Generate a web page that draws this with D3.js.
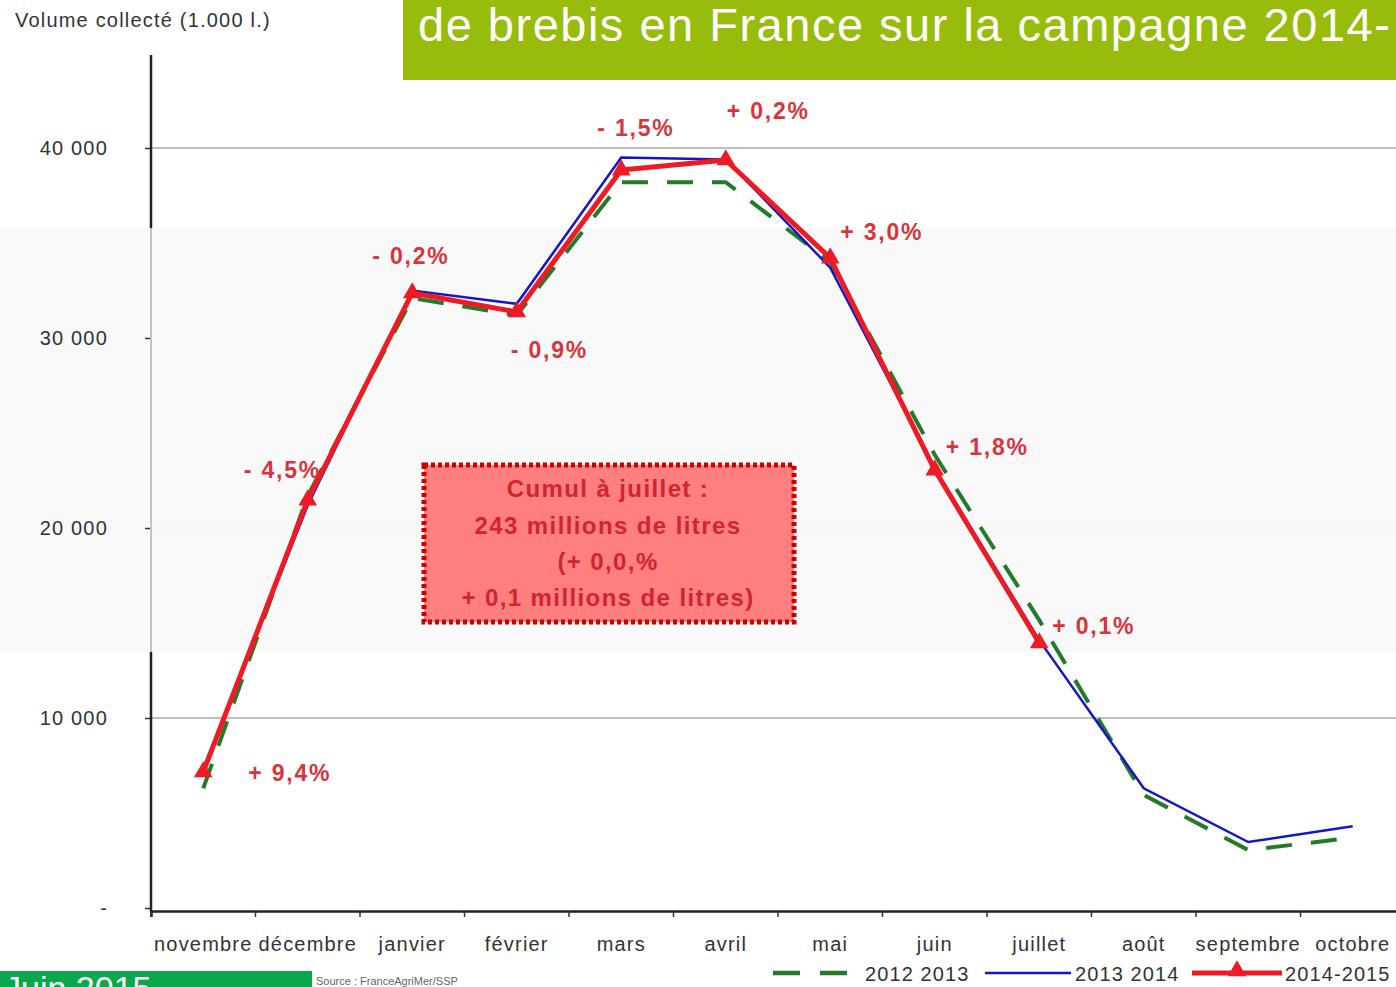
<!DOCTYPE html>
<html lang="fr">
<head>
<meta charset="UTF-8">
<title>Collecte de lait de brebis</title>
<script src="https://d3js.org/d3.v7.min.js"></script>
<style>
  html, body { margin: 0; padding: 0; background: #fff; }
  svg { display: block; font-family: "Liberation Sans", Arial, sans-serif; }
</style>
</head>
<body>
<div id="chart"></div>
<script>
// Data (volume in 1 000 l.)
const months = ["novembre", "décembre", "janvier", "février", "mars", "avril",
                "mai", "juin", "juillet", "août", "septembre", "octobre"];
const serie2012 = [6300, 21700, 32100, 31200, 38200, 38200, 34000, 23850, 15150, 5950, 3050, 3700];
const serie2013 = [7300, 21200, 32500, 31800, 39500, 39400, 33700, 23150, 14100, 6300, 3470, 4300];
const serie2014 = [7160, 21470, 32370, 31370, 38840, 39370, 34210, 23050, 13950];
const seriesNames = ["2012 2013", "2013 2014", "2014-2015"];
const yTicks = [0, 10000, 20000, 30000, 40000];
// evolution labels for 2014-2015 vs previous year
const evolutions = ["+ 9,4%", "- 4,5%", "- 0,2%", "- 0,9%", "- 1,5%", "+ 0,2%", "+ 3,0%", "+ 1,8%", "+ 0,1%"];
const boxLines = ["Cumul à juillet :", "243 millions de litres", "(+ 0,0,%", "+ 0,1 millions de litres)"];

const W = 1396, H = 987;
const svg = d3.select("#chart").append("svg")
    .attr("width", W).attr("height", H);

// faint background band (as in the scanned chart)
svg.append("rect").attr("x", 0).attr("y", 228).attr("width", W).attr("height", 424)
    .attr("fill", "#f9f9f9");

// scales
const x = d3.scaleBand().domain(months).range([151, 151 + 12 * 104.5]);
const y = d3.scaleLinear().domain([0, 45000]).range([908, 53]);
const cx = m => x(m) + x.bandwidth() / 2;

// gridlines
svg.append("g").selectAll("line")
    .data(yTicks.filter(d => d > 0))
    .join("line")
    .attr("x1", 150).attr("x2", W)
    .attr("y1", d => y(d)).attr("y2", d => y(d))
    .attr("stroke", d => (d === 20000 || d === 30000) ? "#fdfdfd" : "#a8a8a8")
    .attr("stroke-width", 1.5);

// y axis
const yAxis = svg.append("g")
    .attr("transform", "translate(150,0)")
    .call(d3.axisLeft(y).tickValues(yTicks).tickSize(5).tickPadding(37)
        .tickFormat(d => d === 0 ? "-" : d3.format(",")(d).replace(",", " ")));
yAxis.select(".domain").remove();
yAxis.selectAll(".tick line").attr("stroke", "#333").attr("stroke-width", 1.5);
yAxis.selectAll(".tick text")
    .attr("font-size", 20).attr("fill", "#333").attr("letter-spacing", 1.2);
svg.append("line").attr("x1", 151).attr("x2", 151).attr("y1", 55).attr("y2", 228)
    .attr("stroke", "#222").attr("stroke-width", 2.5);
svg.append("line").attr("x1", 151).attr("x2", 151).attr("y1", 228).attr("y2", 652)
    .attr("stroke", "#c4c4c4").attr("stroke-width", 2);
svg.append("line").attr("x1", 151).attr("x2", 151).attr("y1", 652).attr("y2", 912)
    .attr("stroke", "#222").attr("stroke-width", 2.5);

// y axis title
svg.append("text").attr("x", 15).attr("y", 27)
    .attr("font-size", 20).attr("fill", "#333").attr("letter-spacing", 1.2)
    .text("Volume collecté (1.000 l.)");

// x axis
const xAxis = svg.append("g")
    .attr("transform", `translate(0,${y(0) + 3})`)
    .call(d3.axisBottom(x).tickSize(6).tickPadding(20));
xAxis.select(".domain").attr("stroke", "#222").attr("stroke-width", 2.5);
xAxis.selectAll(".tick line")
    .attr("x1", -x.bandwidth() / 2).attr("x2", -x.bandwidth() / 2)
    .attr("stroke", "#333").attr("stroke-width", 1.5);
xAxis.selectAll(".tick text")
    .attr("font-size", 20).attr("fill", "#333").attr("letter-spacing", 1.2);

// lines
const line = d3.line().x((d, i) => cx(months[i])).y(d => y(d));
svg.append("path").datum(serie2012)
    .attr("d", line).attr("fill", "none")
    .attr("stroke", "#237a2a").attr("stroke-width", 4).attr("stroke-dasharray", "26,19");
svg.append("path").datum(serie2013)
    .attr("d", line).attr("fill", "none")
    .attr("stroke", "#1515c8").attr("stroke-width", 2.5);
svg.append("path").datum(serie2014)
    .attr("d", line).attr("fill", "none")
    .attr("stroke", "#ee1b24").attr("stroke-width", 5).attr("stroke-linejoin", "round");

const tri = d3.symbol().type(d3.symbolTriangle).size(150);
svg.append("g").selectAll("path")
    .data(serie2014)
    .join("path")
    .attr("d", tri)
    .attr("transform", (d, i) => `translate(${cx(months[i])},${y(d)})`)
    .attr("fill", "#ee1b24");

// evolution labels (offsets relative to each point)
const evoOffset = [[45, 1], [-64, -30], [-40, -37], [-6, 38], [-24, -42], [1, -49], [10, -26], [11, -23], [13, -17]];
svg.append("g").selectAll("text")
    .data(evolutions)
    .join("text")
    .attr("x", (d, i) => cx(months[i]) + evoOffset[i][0])
    .attr("y", (d, i) => y(serie2014[i]) + evoOffset[i][1])
    .attr("dy", "0.35em")
    .attr("font-size", 23).attr("font-weight", "bold").attr("letter-spacing", 1.8)
    .attr("fill", "#d8343c")
    .text(d => d);

// cumulative box
const boxX = 424, boxY = 465, boxW = 370, boxH = 157;
svg.append("rect").attr("x", boxX).attr("y", boxY).attr("width", boxW).attr("height", boxH)
    .attr("fill", "#ff7e7e").attr("stroke", "#cc0000").attr("stroke-width", 5)
    .attr("stroke-dasharray", "4,3");
svg.append("g").selectAll("text")
    .data(boxLines)
    .join("text")
    .attr("x", boxX + boxW / 2 - 1)
    .attr("y", (d, i) => 489 + i * 36.3)
    .attr("dy", "0.35em")
    .attr("text-anchor", "middle")
    .attr("font-size", 24).attr("font-weight", "bold").attr("letter-spacing", 1.4)
    .attr("fill", "#cf2530")
    .text(d => d);

// legend
const legend = svg.append("g").attr("font-size", 20).attr("fill", "#333");
legend.append("line").attr("x1", 773).attr("x2", 852).attr("y1", 973).attr("y2", 973)
    .attr("stroke", "#237a2a").attr("stroke-width", 4.5).attr("stroke-dasharray", "27,20");
legend.append("line").attr("x1", 985).attr("x2", 1071).attr("y1", 973).attr("y2", 973)
    .attr("stroke", "#1515c8").attr("stroke-width", 2.5);
legend.append("line").attr("x1", 1192).attr("x2", 1282).attr("y1", 973).attr("y2", 973)
    .attr("stroke", "#ee1b24").attr("stroke-width", 5);
legend.append("path").attr("d", tri).attr("transform", "translate(1237,971)").attr("fill", "#ee1b24");
legend.selectAll("text")
    .data(seriesNames)
    .join("text")
    .attr("x", (d, i) => [865, 1075, 1285][i])
    .attr("y", 981)
    .attr("letter-spacing", 1.1)
    .text(d => d);

// header banner (cropped)
svg.append("rect").attr("x", 403).attr("y", 0).attr("width", W - 403).attr("height", 80)
    .attr("fill", "#97bc0c");
svg.append("text").attr("x", 418).attr("y", 41)
    .attr("font-size", 47).attr("fill", "#fff").attr("letter-spacing", 1.5)
    .text("de brebis en France sur la campagne 2014-");

// footer (cropped)
svg.append("rect").attr("x", 0).attr("y", 971).attr("width", 312).attr("height", 20)
    .attr("fill", "#0aa74c");
svg.append("text").attr("x", 4).attr("y", 1000)
    .attr("font-size", 34).attr("fill", "#fff")
    .text("Juin 2015");
svg.append("text").attr("x", 316).attr("y", 985)
    .attr("font-size", 11).attr("fill", "#666")
    .text("Source : FranceAgriMer/SSP");
</script>
</body>
</html>
